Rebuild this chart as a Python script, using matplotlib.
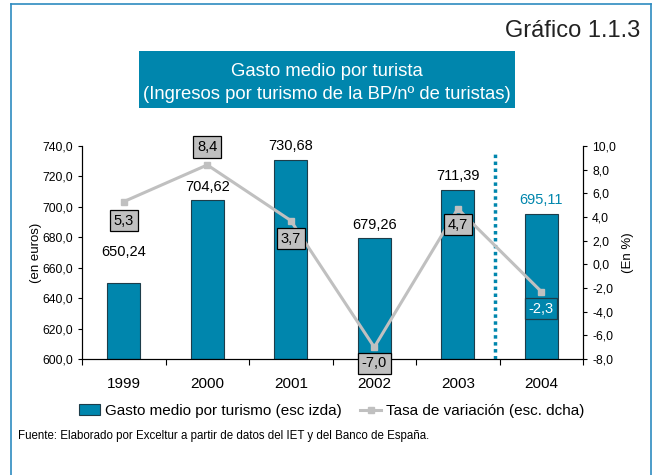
import matplotlib.pyplot as plt
from matplotlib.lines import Line2D
from matplotlib.patches import Patch, Rectangle
from matplotlib.ticker import FuncFormatter
import numpy as np

plt.rcParams["font.family"] = ["Liberation Sans", "DejaVu Sans"]

# data
years = ["1999", "2000", "2001", "2002", "2003", "2004"]
gasto = [650.24, 704.62, 730.68, 679.26, 711.39, 695.11]
tasa = [5.3, 8.4, 3.7, -7.0, 4.7, -2.3]
gasto_labels = ["650,24", "704,62", "730,68", "679,26", "711,39", "695,11"]
tasa_labels = ["5,3", "8,4", "3,7", "-7,0", "4,7", "-2,3"]

BAR = "#0086AD"
GREY = "#C0C0C0"

# label offsets in pixels (Excel-style placement)
bar_off = [31, 13, 14, 13, 14, 14]
line_off = [-19, 18, -18, -16, -16, -17]

fig = plt.figure(figsize=(6.63, 4.75), dpi=100)
ax = fig.add_axes([0.1237, 0.2442, 0.7557, 0.4484])
ax2 = ax.twinx()

x = np.arange(len(years))
ax.bar(x, [g - 600 for g in gasto], 0.4, bottom=600, color=BAR,
       edgecolor="#1d3d4a", linewidth=0.8, zorder=2)
ax.set_ylim(600, 740)
ax.set_xlim(-0.5, len(years) - 0.5)
ax.set_yticks(np.arange(600, 741, 20))
fmt = FuncFormatter(lambda v, p: f"{v:.1f}".replace(".", ","))
ax.yaxis.set_major_formatter(fmt)
ax.set_xticks(x)
ax.set_xticklabels(years, fontsize=11)
ax.set_xticks(np.arange(-0.5, len(years), 1), minor=True)
ax.tick_params(axis="x", which="major", length=0, pad=13)
ax.tick_params(axis="x", which="minor", length=4, width=0.8, direction="out")
ax.tick_params(axis="y", labelsize=8.8, length=3, width=0.8)
ax.set_ylabel("(en euros)", fontsize=9.5, labelpad=0)
ax.spines["top"].set_visible(False)

for i, (g, lab) in enumerate(zip(gasto, gasto_labels)):
    ax.annotate(lab, (x[i], g), xytext=(0, bar_off[i]), textcoords="offset pixels",
                ha="center", va="center", fontsize=10.5,
                color=BAR if i == len(years) - 1 else "black", zorder=5)

ax.axvline(4.45, ymin=0, ymax=0.975, color=BAR, linewidth=2.5,
           linestyle=(0, (1, 1)), zorder=3)

ax2.plot(x, tasa, color=GREY, linewidth=2.2, marker="s", markersize=5,
         markerfacecolor=GREY, markeredgecolor=GREY, zorder=4)
ax2.set_ylim(-8, 10)
ax2.set_yticks(np.arange(-8, 10.1, 2))
ax2.yaxis.set_major_formatter(fmt)
ax2.tick_params(axis="y", labelsize=8.8, length=3, width=0.8)
ax2.set_ylabel("(En %)", fontsize=9.5, labelpad=4)
ax2.spines["top"].set_visible(False)

for i, (t, lab) in enumerate(zip(tasa, tasa_labels)):
    last = i == len(years) - 1
    ax2.annotate(lab, (x[i], t), xytext=(0, line_off[i]), textcoords="offset pixels",
                 ha="center", va="center", fontsize=10.5,
                 color="white" if last else "black", zorder=6,
                 bbox=dict(boxstyle="square,pad=0.25",
                           facecolor=BAR if last else GREY,
                           edgecolor="#1d3d4a" if last else "black", linewidth=0.9))

# title box
fig.add_artist(Rectangle((0.2097, 0.7726), 0.567, 0.12, transform=fig.transFigure,
                         facecolor=BAR, edgecolor="none"))
fig.text(0.493, 0.849, "Gasto medio por turista", ha="center", va="center",
         color="white", fontsize=13.3)
fig.text(0.493, 0.802, "(Ingresos por turismo de la BP/nº de turistas)", ha="center",
         va="center", color="white", fontsize=13.3)
fig.text(0.966, 0.935, "Gráfico 1.1.3", ha="right", va="center", fontsize=17,
         color="#222222")

# frame lines
frame_kw = dict(transform=fig.transFigure, color="#2E8BC0", linewidth=1.2)
fig.add_artist(Line2D([0.016, 0.016], [0.0, 0.992], **frame_kw))
fig.add_artist(Line2D([0.016, 0.982], [0.992, 0.992], **frame_kw))
fig.add_artist(Line2D([0.982, 0.982], [0.0, 0.992], **frame_kw))

handles = [
    Patch(facecolor=BAR, edgecolor="#1d3d4a", linewidth=0.8),
    Line2D([], [], color=GREY, linewidth=2.2, marker="s", markersize=4),
]
fig.legend(handles, ["Gasto medio por turismo (esc izda)", "Tasa de variación (esc. dcha)"],
           loc="center", bbox_to_anchor=(0.5, 0.135), ncol=2, frameon=False,
           fontsize=11, handlelength=1.4, handletextpad=0.3, columnspacing=1.2)

fig.text(0.027, 0.083,
         "Fuente: Elaborado por Exceltur a partir de datos del IET y del Banco de España.",
         ha="left", va="center", fontsize=8.3)

fig.savefig("out.png", dpi=100)
